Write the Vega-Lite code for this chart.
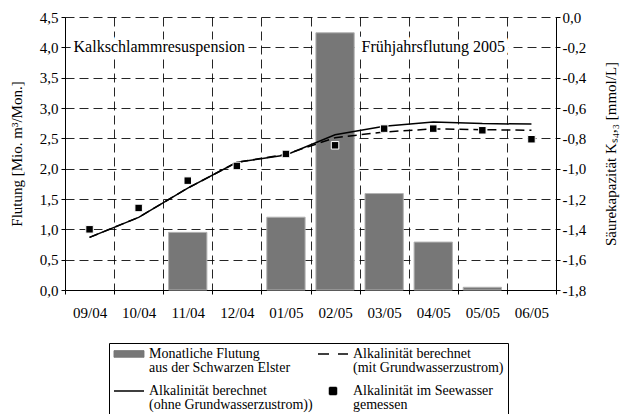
{
  "$schema": "https://vega.github.io/schema/vega-lite/v6.json",
  "width": 491,
  "height": 273,
  "autosize": {"type": "none"},
  "padding": {"left": 65, "top": 17, "right": 70, "bottom": 124},
  "background": "white",
  "datasets": {
    "bars": [
      {"month": "11/04", "series": "Monatliche Flutung|aus der Schwarzen Elster", "flutung": 0.95},
      {"month": "01/05", "series": "Monatliche Flutung|aus der Schwarzen Elster", "flutung": 1.2},
      {"month": "02/05", "series": "Monatliche Flutung|aus der Schwarzen Elster", "flutung": 4.24},
      {"month": "03/05", "series": "Monatliche Flutung|aus der Schwarzen Elster", "flutung": 1.59},
      {"month": "04/05", "series": "Monatliche Flutung|aus der Schwarzen Elster", "flutung": 0.79},
      {"month": "05/05", "series": "Monatliche Flutung|aus der Schwarzen Elster", "flutung": 0.045}
    ],
    "alk": [
      {"month": "09/04", "k": "ohne", "series": "Alkalinität berechnet|(ohne Grundwasserzustrom))", "alk": -1.453},
      {"month": "10/04", "k": "ohne", "series": "Alkalinität berechnet|(ohne Grundwasserzustrom))", "alk": -1.321},
      {"month": "11/04", "k": "ohne", "series": "Alkalinität berechnet|(ohne Grundwasserzustrom))", "alk": -1.128},
      {"month": "12/04", "k": "ohne", "series": "Alkalinität berechnet|(ohne Grundwasserzustrom))", "alk": -0.958},
      {"month": "01/05", "k": "ohne", "series": "Alkalinität berechnet|(ohne Grundwasserzustrom))", "alk": -0.91},
      {"month": "02/05", "k": "ohne", "series": "Alkalinität berechnet|(ohne Grundwasserzustrom))", "alk": -0.776},
      {"month": "03/05", "k": "ohne", "series": "Alkalinität berechnet|(ohne Grundwasserzustrom))", "alk": -0.721},
      {"month": "04/05", "k": "ohne", "series": "Alkalinität berechnet|(ohne Grundwasserzustrom))", "alk": -0.692},
      {"month": "05/05", "k": "ohne", "series": "Alkalinität berechnet|(ohne Grundwasserzustrom))", "alk": -0.703},
      {"month": "06/05", "k": "ohne", "series": "Alkalinität berechnet|(ohne Grundwasserzustrom))", "alk": -0.706},
      {"month": "09/04", "k": "mit", "series": "Alkalinität berechnet|(mit Grundwasserzustrom)", "alk": -1.453},
      {"month": "10/04", "k": "mit", "series": "Alkalinität berechnet|(mit Grundwasserzustrom)", "alk": -1.321},
      {"month": "11/04", "k": "mit", "series": "Alkalinität berechnet|(mit Grundwasserzustrom)", "alk": -1.128},
      {"month": "12/04", "k": "mit", "series": "Alkalinität berechnet|(mit Grundwasserzustrom)", "alk": -0.958},
      {"month": "01/05", "k": "mit", "series": "Alkalinität berechnet|(mit Grundwasserzustrom)", "alk": -0.905},
      {"month": "02/05", "k": "mit", "series": "Alkalinität berechnet|(mit Grundwasserzustrom)", "alk": -0.796},
      {"month": "03/05", "k": "mit", "series": "Alkalinität berechnet|(mit Grundwasserzustrom)", "alk": -0.758},
      {"month": "04/05", "k": "mit", "series": "Alkalinität berechnet|(mit Grundwasserzustrom)", "alk": -0.738},
      {"month": "05/05", "k": "mit", "series": "Alkalinität berechnet|(mit Grundwasserzustrom)", "alk": -0.743},
      {"month": "06/05", "k": "mit", "series": "Alkalinität berechnet|(mit Grundwasserzustrom)", "alk": -0.747},
      {"month": "09/04", "k": "pt", "series": "Alkalinität im Seewasser|gemessen", "alk": -1.4},
      {"month": "10/04", "k": "pt", "series": "Alkalinität im Seewasser|gemessen", "alk": -1.259},
      {"month": "11/04", "k": "pt", "series": "Alkalinität im Seewasser|gemessen", "alk": -1.079},
      {"month": "12/04", "k": "pt", "series": "Alkalinität im Seewasser|gemessen", "alk": -0.982},
      {"month": "01/05", "k": "pt", "series": "Alkalinität im Seewasser|gemessen", "alk": -0.903},
      {"month": "02/05", "k": "pt", "series": "Alkalinität im Seewasser|gemessen", "alk": -0.846},
      {"month": "03/05", "k": "pt", "series": "Alkalinität im Seewasser|gemessen", "alk": -0.736},
      {"month": "04/05", "k": "pt", "series": "Alkalinität im Seewasser|gemessen", "alk": -0.736},
      {"month": "05/05", "k": "pt", "series": "Alkalinität im Seewasser|gemessen", "alk": -0.747},
      {"month": "06/05", "k": "pt", "series": "Alkalinität im Seewasser|gemessen", "alk": -0.806}
    ],
    "notes": [
      {"id": "a", "month": "09/04", "flutung": 4.0, "label": "Kalkschlammresuspension"},
      {"id": "b", "month": "04/05", "flutung": 4.0, "label": "Frühjahrsflutung 2005"}
    ]
  },
  "encoding": {
    "x": {
      "field": "month",
      "type": "ordinal",
      "scale": {
        "domain": ["09/04", "10/04", "11/04", "12/04", "01/05", "02/05", "03/05", "04/05", "05/05", "06/05"],
        "paddingInner": 0,
        "paddingOuter": 0
      },
      "axis": {"title": null, "tickBand": "extent", "grid": true, "labelAngle": 0, "labelPadding": 11}
    }
  },
  "layer": [
    {
      "encoding": {
        "y": {
          "field": "flutung",
          "type": "quantitative",
          "scale": {"domain": [0, 4.5], "nice": false},
          "axis": {
            "orient": "left",
            "values": [0, 0.5, 1, 1.5, 2, 2.5, 3, 3.5, 4, 4.5],
            "format": ".1f",
            "title": "Flutung [Mio. m³/Mon.]",
            "grid": true,
            "labelPadding": 3,
            "titlePadding": 15
          }
        }
      },
      "layer": [
        {
          "data": {"name": "bars"},
          "mark": {"type": "bar", "width": {"band": 0.78}, "stroke": "#b3b3b3", "strokeWidth": 1},
          "encoding": {
            "color": {
              "field": "series",
              "type": "nominal",
              "scale": {
                "domain": ["Monatliche Flutung|aus der Schwarzen Elster", "Alkalinität berechnet|(ohne Grundwasserzustrom))", "Alkalinität berechnet|(mit Grundwasserzustrom)", "Alkalinität im Seewasser|gemessen"],
                "range": ["#777777", "#000000", "#000000", "#000000"]
              },
              "legend": {
                "title": null,
                "orient": "none",
                "legendX": 44,
                "legendY": 326,
                "columns": 2,
                "columnPadding": 2,
                "rowPadding": 9,
                "symbolSize": 900,
                "symbolType": "stroke",
                "symbolOffset": 9,
                "labelFont": "Liberation Serif",
                "labelFontSize": 14,
                "labelColor": "#000000",
                "labelLimit": 400,
                "labelOffset": 13,
                "padding": 4,
                "strokeColor": "#000000",
                "labelExpr": "split(datum.label, '|')",
                "encode": {
                  "legend": {"update": {"stroke": {"value": "#000000"}, "strokeWidth": {"value": 1}}},
                  "symbols": {
                    "update": {
                      "shape": {"signal": "datum.index === 0 ? 'M-1,-0.22H1V0.22H-1Z' : datum.index === 3 ? 'square' : 'stroke'"},
                      "size": {"signal": "datum.index === 3 ? 49 : 900"},
                      "fill": {"signal": "datum.index === 0 ? '#777777' : datum.index === 3 ? '#000000' : 'transparent'"},
                      "stroke": {"signal": "datum.index === 0 ? '#b3b3b3' : datum.index === 3 ? 'transparent' : '#000000'"},
                      "strokeWidth": {"signal": "datum.index === 0 ? 1 : 1.5"},
                      "strokeDash": {"signal": "datum.index === 2 ? [11, 9] : [1, 0]"},
                      "opacity": {"value": 1}
                    }
                  },
                  "labels": {"update": {"lineHeight": {"value": 14}}}
                }
              }
            }
          }
        },
        {
          "data": {"name": "notes"},
          "transform": [{"filter": "datum.id == 'a'"}],
          "mark": {"type": "text", "align": "left", "dx": -16, "fontSize": 16, "fill": "white", "stroke": "white", "strokeWidth": 9, "strokeJoin": "round"},
          "encoding": {"text": {"field": "label"}}
        },
        {
          "data": {"name": "notes"},
          "transform": [{"filter": "datum.id == 'a'"}],
          "mark": {"type": "text", "align": "left", "dx": -16, "fontSize": 16, "fill": "black"},
          "encoding": {"text": {"field": "label"}}
        },
        {
          "data": {"name": "notes"},
          "transform": [{"filter": "datum.id == 'b'"}],
          "mark": {"type": "text", "align": "center", "fontSize": 16, "fill": "white", "stroke": "white", "strokeWidth": 9, "strokeJoin": "round"},
          "encoding": {"text": {"field": "label"}}
        },
        {
          "data": {"name": "notes"},
          "transform": [{"filter": "datum.id == 'b'"}],
          "mark": {"type": "text", "align": "center", "fontSize": 16, "fill": "black"},
          "encoding": {"text": {"field": "label"}}
        }
      ]
    },
    {
      "data": {"name": "alk"},
      "encoding": {
        "y": {
          "field": "alk",
          "type": "quantitative",
          "scale": {"domain": [-1.8, 0], "nice": false, "zero": false},
          "axis": {
            "orient": "right",
            "values": [-1.8, -1.6, -1.4, -1.2, -1, -0.8, -0.6, -0.4, -0.2, 0],
            "format": ".1f",
            "title": "Säurekapazität Kₛ₄,₃ [mmol/L]",
            "grid": false,
            "labelPadding": 2,
            "titlePadding": 18,
            "titleAngle": 270,
            "titleBaseline": "top"
          }
        },
        "color": {
          "field": "series",
          "type": "nominal",
          "scale": {
            "domain": ["Monatliche Flutung|aus der Schwarzen Elster", "Alkalinität berechnet|(ohne Grundwasserzustrom))", "Alkalinität berechnet|(mit Grundwasserzustrom)", "Alkalinität im Seewasser|gemessen"],
            "range": ["#777777", "#000000", "#000000", "#000000"]
          },
          "legend": {
            "title": null,
            "orient": "none",
            "legendX": 44,
            "legendY": 326,
            "columns": 2,
            "columnPadding": 2,
            "rowPadding": 9,
            "symbolSize": 900,
            "symbolType": "stroke",
            "symbolOffset": 9,
            "labelFont": "Liberation Serif",
            "labelFontSize": 14,
            "labelColor": "#000000",
            "labelLimit": 400,
            "labelOffset": 13,
            "padding": 4,
            "strokeColor": "#000000",
            "labelExpr": "split(datum.label, '|')",
            "encode": {
              "legend": {"update": {"stroke": {"value": "#000000"}, "strokeWidth": {"value": 1}}},
              "symbols": {
                "update": {
                  "shape": {"signal": "datum.index === 0 ? 'M-1,-0.22H1V0.22H-1Z' : datum.index === 3 ? 'square' : 'stroke'"},
                  "size": {"signal": "datum.index === 3 ? 49 : 900"},
                  "fill": {"signal": "datum.index === 0 ? '#777777' : datum.index === 3 ? '#000000' : 'transparent'"},
                  "stroke": {"signal": "datum.index === 0 ? '#b3b3b3' : datum.index === 3 ? 'transparent' : '#000000'"},
                  "strokeWidth": {"signal": "datum.index === 0 ? 1 : 1.5"},
                  "strokeDash": {"signal": "datum.index === 2 ? [11, 9] : [1, 0]"},
                  "opacity": {"value": 1}
                }
              },
              "labels": {"update": {"lineHeight": {"value": 14}}}
            }
          }
        }
      },
      "layer": [
        {
          "transform": [{"filter": "datum.k == 'ohne'"}],
          "mark": {"type": "line", "strokeWidth": 1.5}
        },
        {
          "transform": [{"filter": "datum.k == 'mit'"}],
          "mark": {"type": "line", "strokeWidth": 1.5, "strokeDash": [9, 5]}
        },
        {
          "transform": [{"filter": "datum.k == 'pt'"}],
          "mark": {"type": "point", "shape": "square", "filled": true, "size": 56, "opacity": 1, "stroke": "white", "strokeWidth": 1}
        }
      ]
    }
  ],
  "resolve": {"scale": {"y": "independent"}},
  "config": {
    "font": "Liberation Serif",
    "view": {"stroke": null},
    "locale": {"number": {"decimal": ",", "thousands": ".", "grouping": [3], "currency": ["", " €"], "minus": "-"}},
    "axis": {
      "labelFont": "Liberation Serif",
      "titleFont": "Liberation Serif",
      "labelFontSize": 15,
      "titleFontSize": 15,
      "titleFontWeight": "normal",
      "labelColor": "#000000",
      "titleColor": "#000000",
      "domainColor": "#000000",
      "tickColor": "#000000",
      "gridColor": "#000000",
      "gridDash": [9, 5],
      "gridOpacity": 0.85,
      "tickSize": 4,
      "domainWidth": 1
    },
    "text": {"font": "Liberation Serif"}
  }
}
